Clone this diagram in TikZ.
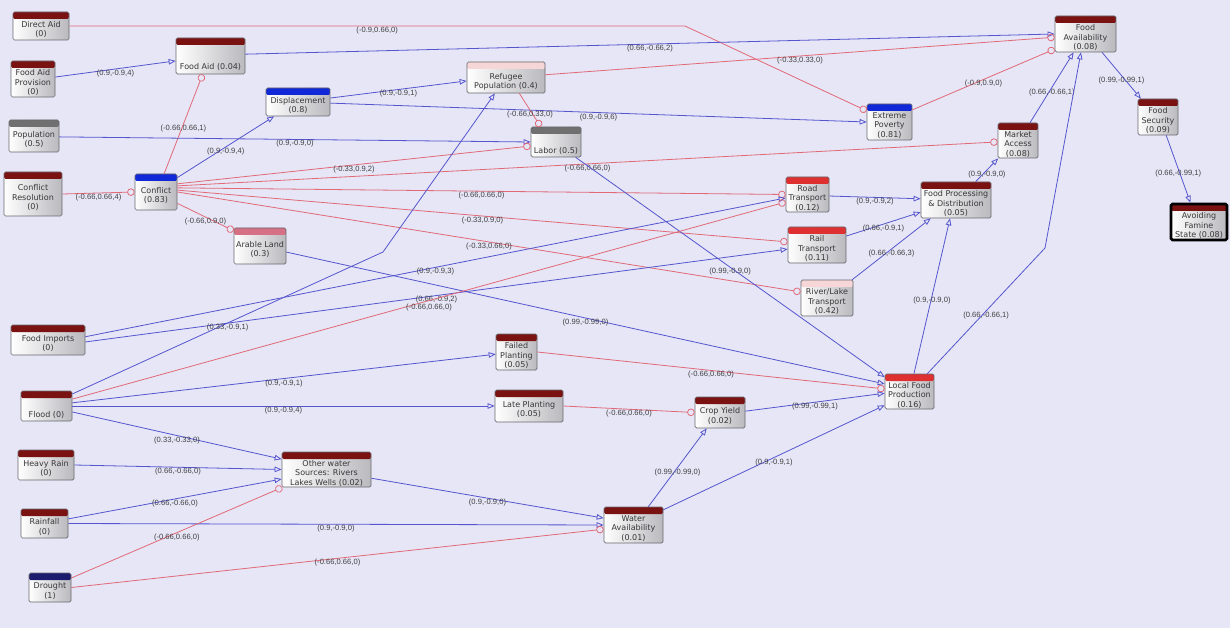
\documentclass[tikz,border=0pt]{standalone}
\usepackage{fontspec}
\newfontfamily\boxfont{DejaVu Sans}
\newfontfamily\lblfont{Liberation Sans}
\usetikzlibrary{arrows.meta}
\definecolor{bgcol}{RGB}{230,230,247}
\definecolor{posline}{RGB}{85,85,205}
\definecolor{negline}{RGB}{226,105,118}
\definecolor{boxedge}{RGB}{105,105,110}
\definecolor{boxgray}{RGB}{185,185,190}
\definecolor{darkhdr}{RGB}{122,18,18}
\definecolor{bluehdr}{RGB}{16,40,215}
\definecolor{navyhdr}{RGB}{28,28,110}
\definecolor{grayhdr}{RGB}{112,112,112}
\definecolor{redhdr}{RGB}{222,48,48}
\definecolor{palehdr}{RGB}{246,214,214}
\definecolor{pinkhdr}{RGB}{214,112,132}

\newcommand{\netbox}[7][3.5]{%
  \node[netbox, minimum width=#4pt, minimum height=#5pt, #6] (#2) at (#3) {};
  \node[boxtext] (#2-t) at ([shift={(0,#1)}]#2.center) {#7};}

\begin{document}
\begin{tikzpicture}[
    x=1pt, y=-1pt,
    netbox/.style={draw=boxedge, line width=0.7pt, rounded corners=1.5pt, left color=white, right color=boxgray, inner sep=0pt},
    hdr/.style={path picture={\fill[#1] (path picture bounding box.north west) rectangle ([yshift=-7pt]path picture bounding box.north east);}},
    boxtext/.style={font=\boxfont\fontsize{8}{9.5}\selectfont, text=black!78, align=center, inner sep=0pt},
    posedge/.style={draw=posline, line width=0.8pt, -{Triangle[open, length=7pt, width=5.5pt]}},
    negedge/.style={draw=negline, line width=0.8pt, -{Circle[open, length=7.5pt]}},
    lbl/.style={font=\lblfont\fontsize{7.6}{8}\selectfont, text=black!75, midway, anchor=north, inner sep=0.6pt}
    ]

    \fill[bgcol] (0,0) rectangle (1230,628);
    \useasboundingbox (0,0) rectangle (1230,628);

    \netbox{diraid}{41,26}{56}{28}{hdr=darkhdr}{Direct Aid\\(0)}
    \netbox{faprov}{33,79}{44}{36}{hdr=darkhdr}{Food Aid\\Provision\\(0)}
    \netbox[11]{foodaid}{210.5,56}{69}{36}{hdr=darkhdr}{Food Aid (0.04)}
    \netbox{popul}{34,136}{50}{32}{hdr=grayhdr}{Population\\(0.5)}
    \netbox{confres}{33,194}{58}{44}{hdr=darkhdr}{Conflict\\Resolution\\(0)}
    \netbox{conflict}{156,192}{42}{36}{hdr=bluehdr}{Conflict\\(0.83)}
    \netbox{displ}{298,102}{64}{28}{hdr=bluehdr}{Displacement\\(0.8)}
    \netbox[4.5]{refugee}{506,77.5}{78}{31}{hdr=palehdr}{Refugee\\Population (0.4)}
    \netbox[9]{labor}{556,142}{50}{30}{hdr=grayhdr}{Labor (0.5)}
    \netbox{arable}{260,246}{52}{36}{hdr=pinkhdr}{Arable Land\\(0.3)}
    \netbox{extpov}{889.5,122}{45}{36}{hdr=bluehdr}{Extreme\\Poverty\\(0.81)}
    \netbox{foodavail}{1085.5,34}{61}{36}{hdr=darkhdr}{Food\\Availability\\(0.08)}
    \netbox{market}{1018,140.5}{40}{35}{hdr=darkhdr}{Market\\Access\\(0.08)}
    \netbox{foodsec}{1158,117}{40}{36}{hdr=darkhdr}{Food\\Security\\(0.09)}
    \netbox{famine}{1199,222}{56}{36}{hdr=darkhdr, draw=black, line width=2.6pt}{Avoiding\\Famine\\State (0.08)}
    \netbox{foodproc}{956,200}{70}{36}{hdr=darkhdr}{Food Processing\\\& Distribution\\(0.05)}
    \netbox{road}{807.5,194.5}{43}{35}{hdr=redhdr}{Road\\Transport\\(0.12)}
    \netbox{rail}{817,245}{58}{36}{hdr=redhdr}{Rail\\Transport\\(0.11)}
    \netbox{river}{827,298}{52}{36}{hdr=palehdr}{River/Lake\\Transport\\(0.42)}
    \netbox{localfood}{909.5,391.5}{49}{35}{hdr=redhdr}{Local Food\\Production\\(0.16)}
    \netbox{failed}{516.5,352}{41}{36}{hdr=darkhdr}{Failed\\Planting\\(0.05)}
    \netbox{late}{529,406}{68}{32}{hdr=darkhdr}{Late Planting\\(0.05)}
    \netbox{cropyield}{720,412.5}{50}{31}{hdr=darkhdr}{Crop Yield\\(0.02)}
    \netbox{foodimp}{48,340}{74}{30}{hdr=darkhdr}{Food Imports\\(0)}
    \netbox[9]{flood}{46.5,406}{51}{30}{hdr=darkhdr}{Flood (0)}
    \netbox{heavyrain}{46,465}{56}{30}{hdr=darkhdr}{Heavy Rain\\(0)}
    \netbox{rainfall}{44.5,523.5}{47}{29}{hdr=darkhdr}{Rainfall\\(0)}
    \netbox{otherwater}{326.5,469.5}{89}{35}{hdr=darkhdr}{Other water\\Sources: Rivers\\Lakes Wells (0.02)}
    \netbox{drought}{50,587.5}{42}{29}{hdr=navyhdr}{Drought\\(1)}
    \netbox{wateravail}{633.5,525}{59}{36}{hdr=darkhdr}{Water\\Availability\\(0.01)}

    \coordinate (aidbend) at (685,26);
    \coordinate (localbend) at (1045,248);
    \coordinate (floodbend) at (383,252);

    \draw[negedge] (diraid.east) -- node[lbl]{(-0.9,0.66,0)} (aidbend) -- (extpov.154);
    \draw[posedge] (foodaid.3) -- node[lbl]{(0.66,-0.66,2)} (foodavail.west);
    \draw[posedge] (faprov.5) -- node[lbl]{(0.9,-0.9,4)} (foodaid.188);
    \draw[negedge] (conflict.66) -- node[lbl]{(-0.66,0.66,1)} (foodaid.247);
    \draw[negedge] (confres.east) -- node[lbl]{(-0.66,0.66,4)} (conflict.west);
    \draw[posedge] (conflict.34) -- node[lbl]{(0.9,-0.9,4)} (displ.211);
    \draw[posedge] (popul.358) -- node[lbl]{(0.9,-0.9,0)} (labor.west);
    \draw[posedge] (displ.7) -- node[lbl]{(0.9,-0.9,1)} (refugee.185);
    \draw[posedge] (displ.358) -- node[lbl]{(0.9,-0.9,6)} (extpov.west);
    \draw[negedge] (refugee.310) -- node[lbl]{(-0.66,0.33,0)} (labor.135);
    \draw[negedge] (refugee.4) -- node[lbl]{(-0.33,0.33,0)} (foodavail.186);
    \draw[negedge] (extpov.28) -- node[lbl]{(-0.9,0.9,0)} (foodavail.206);
    \draw[negedge] (conflict.16) -- node[lbl]{(-0.66,0.66,0)} (market.184);
    \draw[negedge] (conflict.21) -- node[lbl]{(-0.33,0.9,2)} (labor.189);
    \draw[negedge] (conflict.11) -- node[lbl]{(-0.66,0.66,0)} (road.west);
    \draw[negedge] (conflict.5) -- node[lbl]{(-0.33,0.9,0)} (rail.174);
    \draw[negedge] (conflict.east) -- node[lbl]{(-0.33,0.66,0)} (river.167);
    \draw[negedge] (conflict.332) -- node[lbl]{(-0.66,0.9,0)} (arable.150);
    \draw[posedge] (road.356) -- node[lbl]{(0.9,-0.9,2)} (foodproc.178);
    \draw[posedge] (rail.17) -- node[lbl]{(0.66,-0.9,1)} (foodproc.199);
    \draw[posedge] (river.36) -- node[lbl]{(0.66,-0.66,3)} (foodproc.216);
    \draw[posedge] (foodproc.43) -- node[lbl]{(0.9,-0.9,0)} (market.222);
    \draw[posedge] (market.56) -- node[lbl]{(0.66,-0.66,1)} (foodavail.237);
    \draw[posedge] (localfood.45) -- node[lbl]{(0.66,-0.66,1)} (localbend) -- (foodavail.256);
    \draw[posedge] (localfood.76) -- node[lbl]{(0.9,-0.9,0)} (foodproc.252);
    \draw[posedge] (foodavail.312) -- node[lbl]{(0.99,-0.99,1)} (foodsec.133);
    \draw[posedge] (foodsec.294) -- node[lbl]{(0.66,-0.99,1)} (famine.114);
    \draw[posedge] (labor.322) -- node[lbl]{(0.99,-0.9,0)} (localfood.150);
    \draw[posedge] (arable.347) -- node[lbl]{(0.99,-0.99,0)} (localfood.163);
    \draw[posedge] (foodimp.5) -- node[lbl]{(0.9,-0.9,3)} (road.189);
    \draw[posedge] (foodimp.357) -- node[lbl, yshift=1pt]{(0.66,-0.9,2)} (rail.188);
    \draw[posedge] (flood.25) -- node[lbl]{(0.33,-0.9,1)} (floodbend) -- (refugee.235);
    \draw[negedge] (flood.15) -- node[lbl, yshift=-2.5pt]{(-0.66,0.66,0)} (road.199);
    \draw[posedge] (flood.7) -- node[lbl]{(0.9,-0.9,1)} (failed.186);
    \draw[posedge] (flood.east) -- node[lbl]{(0.9,-0.9,4)} (late.west);
    \draw[posedge] (flood.347) -- node[lbl]{(0.33,-0.33,0)} (otherwater.167);
    \draw[negedge] (failed.east) -- node[lbl]{(-0.66,0.66,0)} (localfood.174);
    \draw[negedge] (late.east) -- node[lbl]{(-0.66,0.66,0)} (cropyield.west);
    \draw[posedge] (cropyield.3) -- node[lbl]{(0.99,-0.99,1)} (localfood.184);
    \draw[posedge] (heavyrain.east) -- node[lbl]{(0.66,-0.66,0)} (otherwater.west);
    \draw[posedge] (rainfall.11) -- node[lbl]{(0.66,-0.66,0)} (otherwater.192);
    \draw[posedge] (rainfall.east) -- node[lbl]{(0.9,-0.9,0)} (wateravail.west);
    \draw[posedge] (otherwater.349) -- node[lbl]{(0.9,-0.9,0)} (wateravail.167);
    \draw[negedge] (drought.24) -- node[lbl]{(-0.66,0.66,0)} (otherwater.202);
    \draw[negedge] (drought.east) -- node[lbl]{(-0.66,0.66,0)} (wateravail.188);
    \draw[posedge] (wateravail.51) -- node[lbl]{(0.99,-0.99,0)} (cropyield.230);
    \draw[posedge] (wateravail.27) -- node[lbl]{(0.9,-0.9,1)} (localfood.209);

\end{tikzpicture}
\end{document}
